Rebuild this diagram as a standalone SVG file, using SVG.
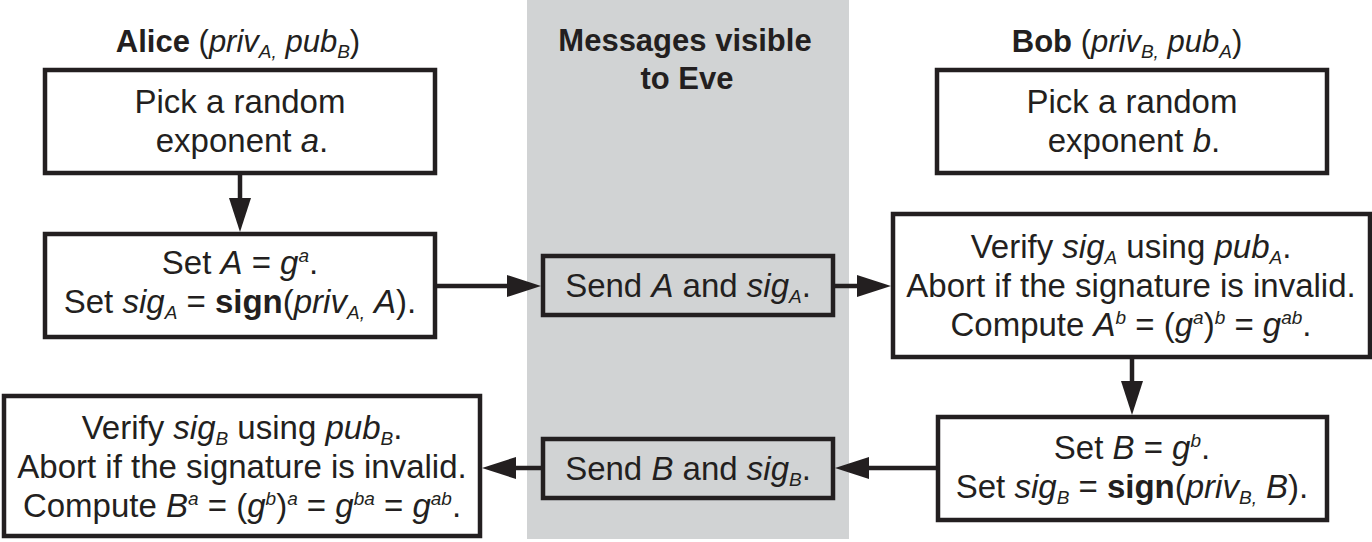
<svg xmlns="http://www.w3.org/2000/svg" width="1372" height="542" viewBox="0 0 1372 542">
<defs>
<style>
.t{font-family:"Liberation Sans",Arial,sans-serif;font-size:33px;fill:#231f20;text-anchor:middle}
.h{font-size:31px}
.i{font-style:italic}
.b{font-weight:bold}
.s{font-size:19px}
.box{fill:#ffffff;stroke:#231f20;stroke-width:4.5}
.msg{fill:#d1d3d4;stroke:#231f20;stroke-width:4.5}
.c{stroke:#231f20;stroke-width:4.5;fill:none;marker-end:url(#ah)}
</style>
<marker id="ah" markerUnits="userSpaceOnUse" markerWidth="34" markerHeight="22" refX="0" refY="11" orient="auto" viewBox="0 0 34 22">
<path d="M0,0 L34,11 L0,22 Z" fill="#231f20"/>
</marker>
</defs>
<rect x="0" y="0" width="1372" height="542" fill="#ffffff"/>
<rect id="eve-band" x="527" y="0" width="322" height="539" fill="#d1d3d4"/>

<g id="header-alice">
<text class="t h" x="238" y="52"><tspan class="b">Alice</tspan> (<tspan class="i">priv</tspan><tspan class="i s" dy="6">A,</tspan><tspan dy="-6"> </tspan><tspan class="i">pub</tspan><tspan class="i s" dy="6">B</tspan><tspan dy="-6">)</tspan></text>
</g>
<g id="header-eve">
<text class="t h b" x="685" y="51">Messages visible</text>
<text class="t h b" x="687" y="89">to Eve</text>
</g>
<g id="header-bob">
<text class="t h" x="1127" y="52"><tspan class="b">Bob</tspan> (<tspan class="i">priv</tspan><tspan class="i s" dy="6">B,</tspan><tspan dy="-6"> </tspan><tspan class="i">pub</tspan><tspan class="i s" dy="6">A</tspan><tspan dy="-6">)</tspan></text>
</g>

<g id="alice-pick">
<rect class="box" x="45" y="70" width="390" height="103"/>
<text class="t" x="240" y="113">Pick a random</text>
<text class="t" x="242" y="152">exponent <tspan class="i">a</tspan>.</text>
</g>

<g id="alice-set">
<rect class="box" x="45" y="234" width="390" height="103"/>
<text class="t" x="240" y="274">Set <tspan class="i">A</tspan> = <tspan class="i">g</tspan><tspan class="i s" dy="-12">a</tspan><tspan dy="12">.</tspan></text>
<text class="t" x="240" y="313">Set <tspan class="i">sig</tspan><tspan class="i s" dy="6">A</tspan><tspan dy="-6"> = </tspan><tspan class="b">sign</tspan>(<tspan class="i">priv</tspan><tspan class="i s" dy="6">A,</tspan><tspan dy="-6"> </tspan><tspan class="i">A</tspan>).</text>
</g>

<g id="send-a">
<rect class="msg" x="543" y="256" width="290" height="59"/>
<text class="t" x="688" y="297">Send <tspan class="i">A</tspan> and <tspan class="i">sig</tspan><tspan class="i s" dy="6">A</tspan><tspan dy="-6">.</tspan></text>
</g>

<g id="bob-pick">
<rect class="box" x="937" y="70" width="390" height="103"/>
<text class="t" x="1132" y="113">Pick a random</text>
<text class="t" x="1134" y="152">exponent <tspan class="i">b</tspan>.</text>
</g>

<g id="bob-verify">
<rect class="box" x="893" y="214" width="477" height="143"/>
<text class="t" x="1131" y="258">Verify <tspan class="i">sig</tspan><tspan class="i s" dy="6">A</tspan><tspan dy="-6"> using </tspan><tspan class="i">pub</tspan><tspan class="i s" dy="6">A</tspan><tspan dy="-6">.</tspan></text>
<text class="t" x="1131" y="297">Abort if the signature is invalid.</text>
<text class="t" x="1131" y="336">Compute <tspan class="i">A</tspan><tspan class="i s" dy="-12">b</tspan><tspan dy="12"> = (</tspan><tspan class="i">g</tspan><tspan class="i s" dy="-12">a</tspan><tspan dy="12">)</tspan><tspan class="i s" dy="-12">b</tspan><tspan dy="12"> = </tspan><tspan class="i">g</tspan><tspan class="i s" dy="-12">ab</tspan><tspan dy="12">.</tspan></text>
</g>

<g id="bob-set">
<rect class="box" x="938" y="417" width="389" height="103"/>
<text class="t" x="1132" y="459">Set <tspan class="i">B</tspan> = <tspan class="i">g</tspan><tspan class="i s" dy="-12">b</tspan><tspan dy="12">.</tspan></text>
<text class="t" x="1132" y="498">Set <tspan class="i">sig</tspan><tspan class="i s" dy="6">B</tspan><tspan dy="-6"> = </tspan><tspan class="b">sign</tspan>(<tspan class="i">priv</tspan><tspan class="i s" dy="6">B,</tspan><tspan dy="-6"> </tspan><tspan class="i">B</tspan>).</text>
</g>

<g id="send-b">
<rect class="msg" x="543" y="439" width="290" height="59"/>
<text class="t" x="688" y="480">Send <tspan class="i">B</tspan> and <tspan class="i">sig</tspan><tspan class="i s" dy="6">B</tspan><tspan dy="-6">.</tspan></text>
</g>

<g id="alice-verify">
<rect class="box" x="4" y="396" width="476" height="140"/>
<text class="t" x="242" y="439">Verify <tspan class="i">sig</tspan><tspan class="i s" dy="6">B</tspan><tspan dy="-6"> using </tspan><tspan class="i">pub</tspan><tspan class="i s" dy="6">B</tspan><tspan dy="-6">.</tspan></text>
<text class="t" x="242" y="478">Abort if the signature is invalid.</text>
<text class="t" x="242" y="517">Compute <tspan class="i">B</tspan><tspan class="i s" dy="-12">a</tspan><tspan dy="12"> = (</tspan><tspan class="i">g</tspan><tspan class="i s" dy="-12">b</tspan><tspan dy="12">)</tspan><tspan class="i s" dy="-12">a</tspan><tspan dy="12"> = </tspan><tspan class="i">g</tspan><tspan class="i s" dy="-12">ba</tspan><tspan dy="12"> = </tspan><tspan class="i">g</tspan><tspan class="i s" dy="-12">ab</tspan><tspan dy="12">.</tspan></text>
</g>

<g id="connectors">
<line class="c" x1="240" y1="173" x2="240" y2="198"/>
<line class="c" x1="435" y1="286" x2="507" y2="286"/>
<line class="c" x1="833" y1="286" x2="857" y2="286"/>
<line class="c" x1="1132" y1="357" x2="1132" y2="381"/>
<line class="c" x1="938" y1="468" x2="869" y2="468"/>
<line class="c" x1="543" y1="468" x2="516" y2="468"/>
</g>
</svg>
